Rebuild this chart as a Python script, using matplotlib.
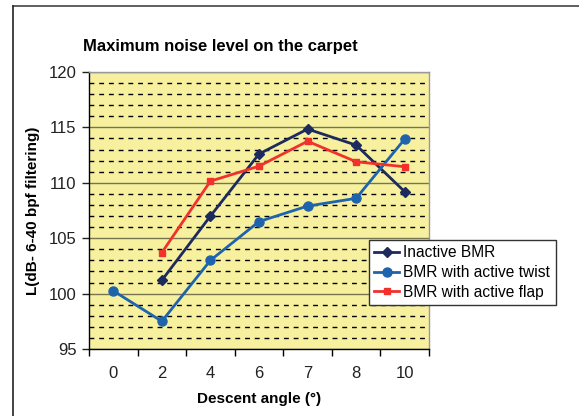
import matplotlib
matplotlib.use("Agg")
import matplotlib.pyplot as plt
from matplotlib.lines import Line2D
from matplotlib.ticker import MultipleLocator, FixedLocator
import numpy as np

plt.rcParams['font.family'] = ['Liberation Sans', 'DejaVu Sans']

# data
angles = ['0', '2', '4', '6', '7', '8', '10']
inactive = [np.nan, 101.2, 107.0, 112.6, 114.85, 113.4, 109.2]
twist = [100.25, 97.5, 103.0, 106.5, 107.9, 108.6, 113.95]
flap = [np.nan, 103.7, 110.15, 111.5, 113.75, 111.9, 111.45]

fig = plt.figure(figsize=(5.79, 4.16), dpi=100)
ax = fig.add_axes([89/579, 1-349/416, 340/579, 277/416])
ax.set_facecolor('#f7f19f')

x = np.arange(len(angles))
ax.plot(x, inactive, color='#1d2a5e', marker='D', ms=5, lw=2, label='Inactive BMR', zorder=4)
ax.plot(x, twist, color='#1f63ad', marker='o', ms=6.5, lw=2, label='BMR with active twist', zorder=4)
ax.plot(x, flap, color='#f2302c', marker='s', ms=4, lw=2, label='BMR with active flap', zorder=4)

ax.set_xlim(-0.5, len(angles) - 0.5)
ax.set_ylim(95, 120)
ax.yaxis.set_major_locator(MultipleLocator(5))
ax.yaxis.set_minor_locator(MultipleLocator(1))
ax.xaxis.set_major_locator(FixedLocator(x))
ax.xaxis.set_minor_locator(FixedLocator(np.arange(len(angles) + 1) - 0.5))
ax.set_xticklabels(angles)

ax.grid(which='major', axis='y', color='#77754f', lw=1, ls='-')
ax.grid(which='minor', axis='y', color='black', lw=1, ls=(0, (3.5, 3.5)))
ax.set_axisbelow(True)

ax.tick_params(axis='y', which='major', direction='out', length=5, width=1, pad=4, labelsize=12)
ax.tick_params(axis='y', which='minor', length=0)
ax.tick_params(axis='x', which='major', length=0, pad=12, labelsize=12)
ax.tick_params(axis='x', which='minor', direction='out', length=5, width=1)
ax.tick_params(colors='#222222')

for s in ['left', 'bottom']:
    ax.spines[s].set_color('black')
    ax.spines[s].set_linewidth(1)
for s in ['top', 'right']:
    ax.spines[s].set_color('#999999')
    ax.spines[s].set_linewidth(1)

ax.set_xlabel('Descent angle (°)', fontsize=11, fontweight='bold', labelpad=8)
fig.text(33/579, 1-211/416, 'L(dB- 6-40 bpf filtering)', rotation=90, fontsize=11,
         fontweight='bold', ha='center', va='center')
fig.text(220/579, 1-47/416, 'Maximum noise level on the carpet', fontsize=12,
         fontweight='bold', ha='center', va='center')

leg = ax.legend(loc='upper left', bbox_to_anchor=(369/579, 1-240/416), bbox_transform=fig.transFigure,
                frameon=True, fancybox=False, fontsize=11.2, handlelength=1.6, handletextpad=0.25,
                borderpad=0.35, labelspacing=0.3, borderaxespad=0)
leg.get_frame().set_edgecolor('#333333')
leg.get_frame().set_linewidth(1)
leg.get_frame().set_facecolor('white')
leg.get_frame().set_alpha(1)

# outer frame of the chart box
fig.add_artist(Line2D([13/579, 1], [1-6/416, 1-6/416], transform=fig.transFigure, color='#444444', lw=1.2))
fig.add_artist(Line2D([13/579, 13/579], [0, 1-6/416], transform=fig.transFigure, color='#222222', lw=1.2))

fig.savefig('out.png', dpi=100)
